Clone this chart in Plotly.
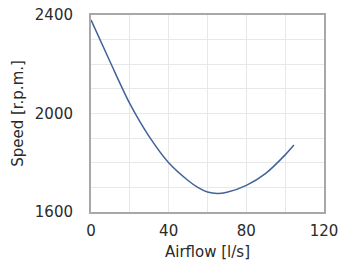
import plotly.graph_objects as go

airflow = [0, 10, 20, 30, 40, 50, 55, 60, 65, 70, 80, 90, 100, 104.5]
speed = [2380, 2207, 2040, 1906, 1800, 1728, 1700, 1681, 1675, 1680, 1708, 1757, 1832, 1872]

x_ticks = [0, 40, 80, 120]
y_ticks = [1600, 2000, 2400]

FONT = "DejaVu Sans"

fig = go.Figure()
fig.add_trace(go.Scatter(
    x=airflow, y=speed, mode="lines",
    line=dict(color="#41639a", width=1.5, shape="spline", smoothing=0.8),
    hoverinfo="skip", showlegend=False,
))

fig.update_layout(
    width=341, height=266,
    margin=dict(l=91, r=17, t=15, b=54),
    paper_bgcolor="white", plot_bgcolor="white",
    font=dict(family=FONT, size=15, color="#2a2a2a"),
    xaxis=dict(
        range=[0, 120], tickvals=x_ticks, ticktext=[str(v) for v in x_ticks],
        showgrid=True, gridcolor="#e8e8e8", gridwidth=1,
        minor=dict(dtick=20, tick0=0, showgrid=True, gridcolor="#e8e8e8", gridwidth=1),
        showline=True, linecolor="#a8a8a8", linewidth=2, mirror=True,
        zeroline=False, ticks="", ticklabelstandoff=4, automargin=False,
        title=dict(text="Airflow [l/s]", standoff=7, font=dict(size=15)),
        fixedrange=True,
    ),
    yaxis=dict(
        range=[1600, 2400], tickvals=y_ticks, ticktext=[str(v) for v in y_ticks],
        showgrid=True, gridcolor="#e8e8e8", gridwidth=1,
        minor=dict(dtick=100, tick0=1600, showgrid=True, gridcolor="#e8e8e8", gridwidth=1),
        showline=True, linecolor="#a8a8a8", linewidth=2, mirror=True,
        zeroline=False, ticks="", ticklabelstandoff=13, automargin=False,
        title=dict(text="Speed [r.p.m.]", standoff=8, font=dict(size=15)),
        fixedrange=True,
    ),
)

fig.write_html(
    "out.html",
    config={"displayModeBar": False},
    post_script="document.body.style.margin='0';document.body.style.overflow='hidden';",
)
